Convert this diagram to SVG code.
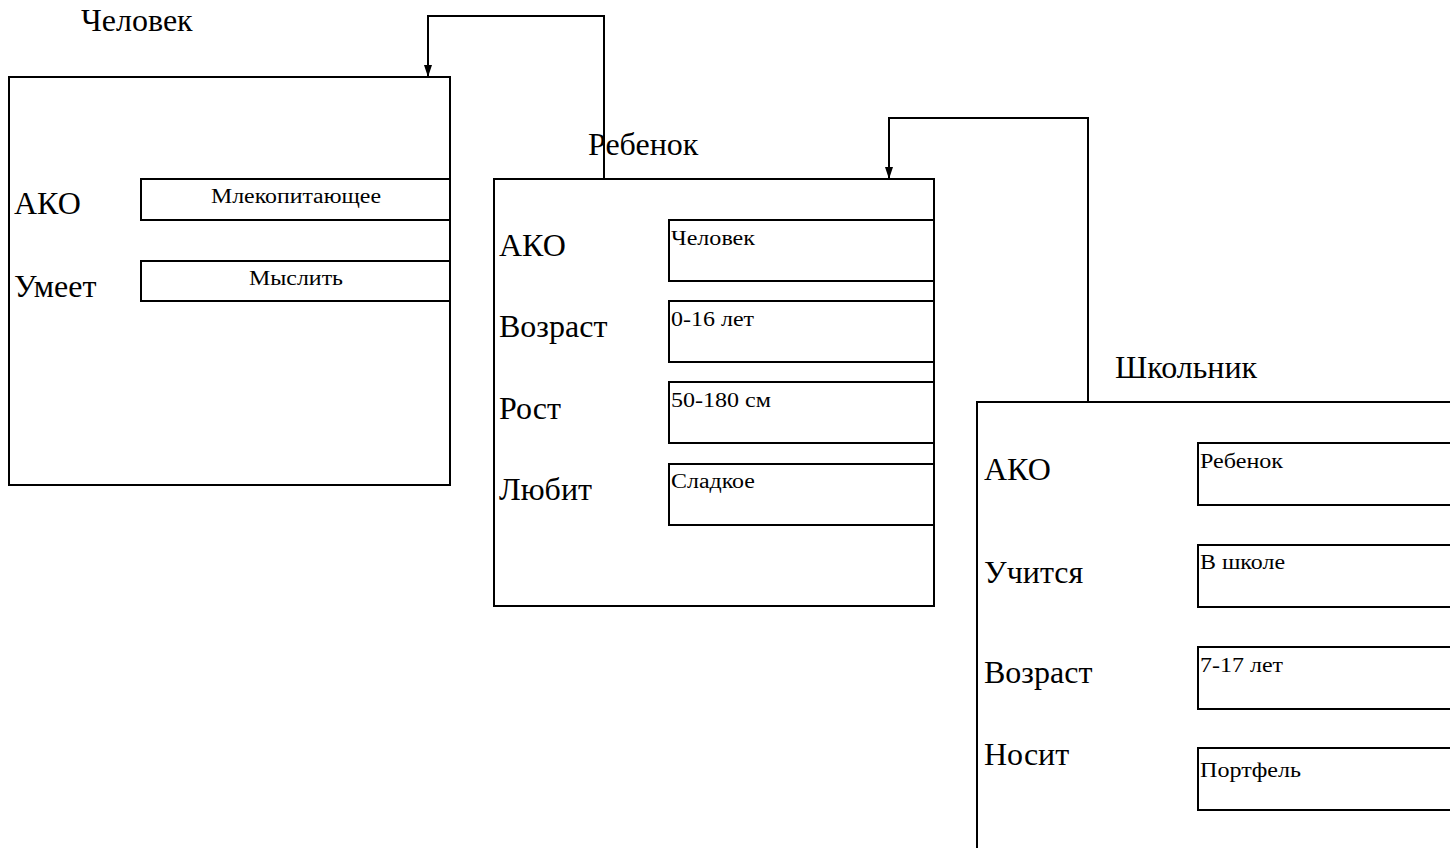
<svg xmlns="http://www.w3.org/2000/svg" width="1450" height="848" viewBox="0 0 1450 848">
<defs>
<marker id="arr" markerWidth="13" markerHeight="9" refX="12" refY="4.5" orient="auto" markerUnits="userSpaceOnUse" viewBox="0 0 13 9">
<path d="M0,0.5 L12,4.5 L0,8.5 Z" fill="#000"/>
</marker>
<style>
.frame{fill:#fff;stroke:#000;stroke-width:2}
.slot{fill:#fff;stroke:#000;stroke-width:2}
.big{font-family:"Liberation Serif","Times New Roman",serif;font-size:32px;fill:#000}
.small{font-family:"Liberation Serif","Times New Roman",serif;font-size:20.5px;fill:#000}
.conn{fill:none;stroke:#000;stroke-width:2}
</style>
</defs>
<rect width="1450" height="848" fill="#fff"/>
<g id="node-chelovek">
<text class="big" x="81" y="31">Человек</text>
<rect class="frame" x="9" y="77" width="441" height="408"/>
<text class="big" x="14" y="214">АКО</text>
<text class="big" x="14" y="297">Умеет</text>
<rect class="slot" x="141" y="179" width="309" height="41"/>
<text class="small" x="211" y="203" textLength="170" lengthAdjust="spacingAndGlyphs">Млекопитающее</text>
<rect class="slot" x="141" y="261" width="309" height="40"/>
<text class="small" x="249" y="285" textLength="94" lengthAdjust="spacingAndGlyphs">Мыслить</text>
</g>
<g id="node-rebenok">
<rect class="frame" x="494" y="179" width="440" height="427"/>
<text class="big" x="588" y="155">Ребенок</text>
<text class="big" x="499" y="256">АКО</text>
<text class="big" x="499" y="337">Возраст</text>
<text class="big" x="499" y="419">Рост</text>
<text class="big" x="499" y="500">Любит</text>
<rect class="slot" x="669" y="220" width="265" height="61"/>
<text class="small" x="671" y="245" textLength="84" lengthAdjust="spacingAndGlyphs">Человек</text>
<rect class="slot" x="669" y="301" width="265" height="61"/>
<text class="small" x="671" y="326" textLength="83" lengthAdjust="spacingAndGlyphs">0-16 лет</text>
<rect class="slot" x="669" y="382" width="265" height="61"/>
<text class="small" x="671" y="407" textLength="100" lengthAdjust="spacingAndGlyphs">50-180 см</text>
<rect class="slot" x="669" y="464" width="265" height="61"/>
<text class="small" x="671" y="488" textLength="84" lengthAdjust="spacingAndGlyphs">Сладкое</text>
</g>
<g id="node-shkolnik">
<rect class="frame" x="977" y="402" width="490" height="470"/>
<text class="big" x="1115" y="378">Школьник</text>
<text class="big" x="984" y="480">АКО</text>
<text class="big" x="984" y="583">Учится</text>
<text class="big" x="984" y="683">Возраст</text>
<text class="big" x="984" y="765">Носит</text>
<rect class="slot" x="1198" y="443" width="270" height="62"/>
<text class="small" x="1200" y="468" textLength="83" lengthAdjust="spacingAndGlyphs">Ребенок</text>
<rect class="slot" x="1198" y="545" width="270" height="62"/>
<text class="small" x="1200" y="569" textLength="85" lengthAdjust="spacingAndGlyphs">В школе</text>
<rect class="slot" x="1198" y="647" width="270" height="62"/>
<text class="small" x="1200" y="672" textLength="83" lengthAdjust="spacingAndGlyphs">7-17 лет</text>
<rect class="slot" x="1198" y="748" width="270" height="62"/>
<text class="small" x="1200" y="777" textLength="101" lengthAdjust="spacingAndGlyphs">Портфель</text>
</g>
<g id="connectors">
<path class="conn" d="M604,179 V16 H428 V77" marker-end="url(#arr)"/>
<path class="conn" d="M1088,402 V118 H889 V179" marker-end="url(#arr)"/>
</g>
</svg>
